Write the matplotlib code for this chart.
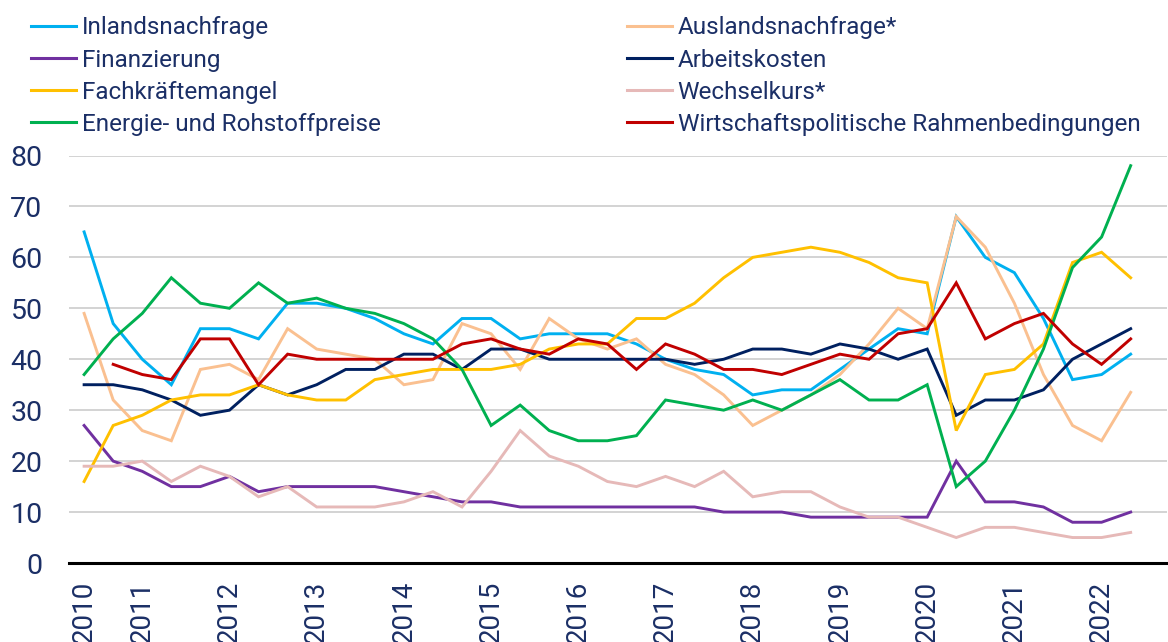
import numpy as np
import matplotlib
matplotlib.use("Agg")
import matplotlib.pyplot as plt
from matplotlib.lines import Line2D

plt.rcParams['font.family'] = ['Roboto', 'DejaVu Sans']

# three surveys per year, 2010 has only two
years = ['2010', '2011', '2012', '2013', '2014', '2015', '2016',
         '2017', '2018', '2019', '2020', '2021', '2022']
year_pos = [0, 2, 5, 8, 11, 14, 17, 20, 23, 26, 29, 32, 35]
n_points = 37

inland = [65, 47, 40, 35, 46, 46, 44, 51, 51, 50, 48, 45, 43, 48, 48, 44, 45, 45, 45,
          43, 40, 38, 37, 33, 34, 34, 38, 42, 46, 45, 68, 60, 57, 48, 36, 37, 41]
ausland = [49, 32, 26, 24, 38, 39, 36, 46, 42, 41, 40, 35, 36, 47, 45, 38, 48, 44, 42,
           44, 39, 37, 33, 27, 30, 33, 37, 43, 50, 46, 68, 62, 51, 37, 27, 24, 33.5]
finanz = [27, 20, 18, 15, 15, 17, 14, 15, 15, 15, 15, 14, 13, 12, 12, 11, 11, 11, 11,
          11, 11, 11, 10, 10, 10, 9, 9, 9, 9, 9, 20, 12, 12, 11, 8, 8, 10]
arbeit = [35, 35, 34, 32, 29, 30, 35, 33, 35, 38, 38, 41, 41, 38, 42, 42, 40, 40, 40,
          40, 40, 39, 40, 42, 42, 41, 43, 42, 40, 42, 29, 32, 32, 34, 40, 43, 46]
fachkraefte = [16, 27, 29, 32, 33, 33, 35, 33, 32, 32, 36, 37, 38, 38, 38, 39, 42, 43, 43,
               48, 48, 51, 56, 60, 61, 62, 61, 59, 56, 55, 26, 37, 38, 43, 59, 61, 56]
wechselkurs = [19, 19, 20, 16, 19, 17, 13, 15, 11, 11, 11, 12, 14, 11, 18, 26, 21, 19, 16,
               15, 17, 15, 18, 13, 14, 14, 11, 9, 9, 7, 5, 7, 7, 6, 5, 5, 6]
energie = [37, 44, 49, 56, 51, 50, 55, 51, 52, 50, 49, 47, 44, 38, 27, 31, 26, 24, 24,
           25, 32, 31, 30, 32, 30, 33, 36, 32, 32, 35, 15, 20, 30, 42, 58, 64, 78]
# starts with the second survey
wirtschaft = [np.nan, 39, 37, 36, 44, 44, 35, 41, 40, 40, 40, 40, 40, 43, 44, 42, 41, 44, 43,
              38, 43, 41, 38, 38, 37, 39, 41, 40, 45, 46, 55, 44, 47, 49, 43, 39, 44]

series = [
    ('Inlandsnachfrage', inland, '#00B0F0'),
    ('Auslandsnachfrage*', ausland, '#FAC090'),
    ('Finanzierung', finanz, '#7030A0'),
    ('Arbeitskosten', arbeit, '#002060'),
    ('Fachkräftemangel', fachkraefte, '#FFC000'),
    ('Wechselkurs*', wechselkurs, '#E6B9B8'),
    ('Energie- und Rohstoffpreise', energie, '#00B050'),
    ('Wirtschaftspolitische Rahmenbedingungen', wirtschaft, '#C00000'),
]

text_col = '#1B2F66'

fig = plt.figure(figsize=(11.68, 6.42), dpi=100)
ax = fig.add_axes([69 / 1168, 1 - 563 / 642, (1167 - 69) / 1168, (563 - 155.5) / 642])

x = np.arange(n_points)
for name, vals, col in series:
    ax.plot(x, vals, color=col, lw=2.1, label=name, solid_joinstyle='miter')

ax.set_xlim(-0.52, 37.25)
ax.set_ylim(0, 80)
ax.set_yticks(range(0, 81, 10))
ax.grid(axis='y', color='#D0D0D0', lw=1.3)
ax.set_axisbelow(True)
for s in ['top', 'right', 'left']:
    ax.spines[s].set_visible(False)
ax.spines['bottom'].set_color('black')
ax.spines['bottom'].set_linewidth(2.2)
ax.spines['bottom'].set_zorder(5)

ax.set_xticks(year_pos)
ax.set_xticklabels(years, rotation=90, va='top', ha='center')
ax.tick_params(axis='x', length=0, pad=13, labelsize=20, labelcolor=text_col)
ax.tick_params(axis='y', length=0, pad=19, labelsize=20.5, labelcolor=text_col)

# legend in two columns, drawn as two separate legends
handles = {name: Line2D([0], [0], color=col, lw=2.2) for name, _, col in series}
left_names = ['Inlandsnachfrage', 'Finanzierung', 'Fachkräftemangel', 'Energie- und Rohstoffpreise']
right_names = ['Auslandsnachfrage*', 'Arbeitskosten', 'Wechselkurs*',
               'Wirtschaftspolitische Rahmenbedingungen']
for names, xpos in [(left_names, 24 / 1168), (right_names, 620 / 1168)]:
    leg = fig.legend([handles[n] for n in names], names, loc='upper left',
                     bbox_to_anchor=(xpos, 1 - 9 / 642), frameon=False,
                     prop={'size': 17.5},
                     handlelength=1.85, handletextpad=0.22,
                     labelspacing=0.38, borderaxespad=0, borderpad=0.3)
    for t in leg.get_texts():
        t.set_color(text_col)

fig.savefig('out.png', dpi=100)
